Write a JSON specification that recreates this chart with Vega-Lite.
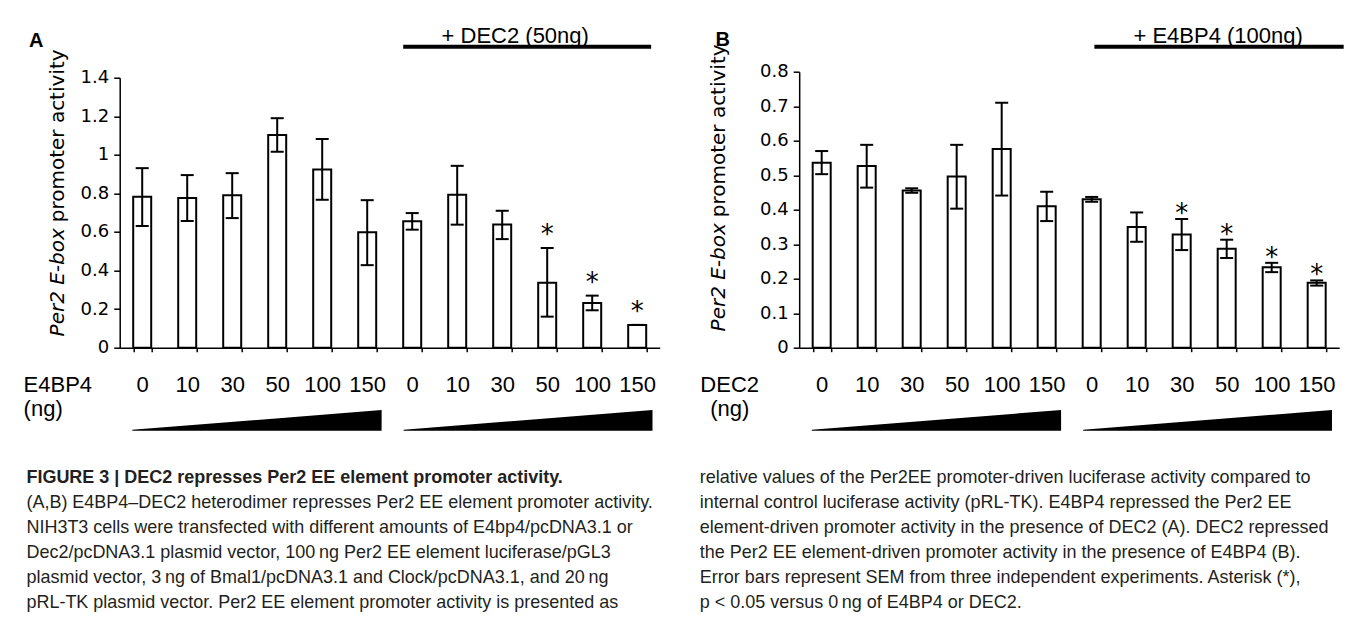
{
  "$schema": "https://vega.github.io/schema/vega-lite/v6.json",
  "background": "white",
  "padding": {"left": 22.7, "top": 24.7, "right": 0, "bottom": 0},
  "config": {
    "view": {"stroke": null},
    "axis": {"grid": false, "labelOverlap": false}
  },
  "datasets": {
    "panelA": [
      {"pos": 1, "mean": 0.783, "lo": 0.631, "hi": 0.931, "sig": false},
      {"pos": 2, "mean": 0.776, "lo": 0.657, "hi": 0.895, "sig": false},
      {"pos": 3, "mean": 0.790, "lo": 0.672, "hi": 0.905, "sig": false},
      {"pos": 4, "mean": 1.103, "lo": 1.016, "hi": 1.190, "sig": false},
      {"pos": 5, "mean": 0.924, "lo": 0.767, "hi": 1.082, "sig": false},
      {"pos": 6, "mean": 0.598, "lo": 0.428, "hi": 0.765, "sig": false},
      {"pos": 7, "mean": 0.655, "lo": 0.612, "hi": 0.698, "sig": false},
      {"pos": 8, "mean": 0.793, "lo": 0.638, "hi": 0.943, "sig": false},
      {"pos": 9, "mean": 0.639, "lo": 0.563, "hi": 0.710, "sig": false},
      {"pos": 10, "mean": 0.337, "lo": 0.161, "hi": 0.517, "sig": true},
      {"pos": 11, "mean": 0.232, "lo": 0.194, "hi": 0.270, "sig": true},
      {"pos": 12, "mean": 0.118, "lo": 0.118, "hi": 0.118, "sig": true}
    ],
    "panelB": [
      {"pos": 1, "mean": 0.536, "lo": 0.503, "hi": 0.570, "sig": false},
      {"pos": 2, "mean": 0.527, "lo": 0.464, "hi": 0.588, "sig": false},
      {"pos": 3, "mean": 0.456, "lo": 0.449, "hi": 0.462, "sig": false},
      {"pos": 4, "mean": 0.496, "lo": 0.403, "hi": 0.588, "sig": false},
      {"pos": 5, "mean": 0.576, "lo": 0.441, "hi": 0.710, "sig": false},
      {"pos": 6, "mean": 0.410, "lo": 0.367, "hi": 0.452, "sig": false},
      {"pos": 7, "mean": 0.430, "lo": 0.423, "hi": 0.437, "sig": false},
      {"pos": 8, "mean": 0.350, "lo": 0.307, "hi": 0.392, "sig": false},
      {"pos": 9, "mean": 0.328, "lo": 0.283, "hi": 0.373, "sig": true},
      {"pos": 10, "mean": 0.287, "lo": 0.260, "hi": 0.313, "sig": true},
      {"pos": 11, "mean": 0.233, "lo": 0.219, "hi": 0.246, "sig": true},
      {"pos": 12, "mean": 0.188, "lo": 0.180, "hi": 0.195, "sig": true}
    ],
    "wedges": [
      {"wedge": 1, "x": 0.28, "amount": 0.04},
      {"wedge": 1, "x": 5.82, "amount": 1},
      {"wedge": 2, "x": 6.31, "amount": 0.04},
      {"wedge": 2, "x": 11.84, "amount": 1}
    ],
    "captionLeft": [
      {"line": 1, "bold": true, "text": "FIGURE 3 | DEC2 represses Per2 EE element promoter activity."},
      {"line": 2, "bold": false, "text": "(A,B) E4BP4–DEC2 heterodimer represses Per2 EE element promoter activity."},
      {"line": 3, "bold": false, "text": "NIH3T3 cells were transfected with different amounts of E4bp4/pcDNA3.1 or"},
      {"line": 4, "bold": false, "text": "Dec2/pcDNA3.1 plasmid vector, 100\u2009ng Per2 EE element luciferase/pGL3"},
      {"line": 5, "bold": false, "text": "plasmid vector, 3\u2009ng of Bmal1/pcDNA3.1 and Clock/pcDNA3.1, and 20\u2009ng"},
      {"line": 6, "bold": false, "text": "pRL-TK plasmid vector. Per2 EE element promoter activity is presented as"}
    ],
    "captionRight": [
      {"line": 1, "text": "relative values of the Per2EE promoter-driven luciferase activity compared to"},
      {"line": 2, "text": "internal control luciferase activity (pRL-TK). E4BP4 repressed the Per2 EE"},
      {"line": 3, "text": "element-driven promoter activity in the presence of DEC2 (A). DEC2 repressed"},
      {"line": 4, "text": "the Per2 EE element-driven promoter activity in the presence of E4BP4 (B)."},
      {"line": 5, "text": "Error bars represent SEM from three independent experiments. Asterisk (*),"},
      {"line": 6, "text": "p < 0.05 versus 0\u2009ng of E4BP4 or DEC2."}
    ]
  },
  "spacing": 39.5,
  "hconcat": [
    {
      "bounds": "flush",
      "spacing": 0,
      "vconcat": [
        {
          "width": 540,
          "height": 30.3,
          "data": {"values": [{"label": "+ DEC2 (50ng)", "start": 6.3, "end": 11.81, "mid": 8.79}]},
          "layer": [
            {
              "mark": {"type": "rule", "color": "black", "strokeWidth": 4},
              "encoding": {
                "x": {"field": "start", "type": "quantitative", "scale": {"domain": [0, 12]}, "axis": null},
                "x2": {"field": "end"},
                "y": {"datum": 1, "type": "quantitative", "scale": {"domain": [0, 1]},
                  "axis": {"title": "A", "orient": "left", "labels": false, "ticks": false, "domain": false, "grid": false,
                    "titleAngle": 0, "titleX": -91.3, "titleY": 0.3, "titleAlign": "left", "titleBaseline": "alphabetic",
                    "titleFont": "Liberation Sans", "titleFontSize": 20, "titleFontWeight": "bold", "titleColor": "black"}}
              }
            },
            {
              "mark": {"type": "text", "font": "Liberation Sans", "fontSize": 22, "color": "black", "baseline": "alphabetic", "dy": -4},
              "encoding": {
                "x": {"field": "mid", "type": "quantitative", "axis": null},
                "y": {"datum": 1, "type": "quantitative"},
                "text": {"field": "label"}
              }
            }
          ]
        },
        {
          "width": 540,
          "height": 270,
          "data": {"name": "panelA"},
          "layer": [
            {
              "layer": [
                {
                  "mark": {"type": "bar", "fill": "white", "stroke": "black", "strokeWidth": 2},
                  "encoding": {
                    "x": {"field": "pos", "type": "ordinal", "scale": {"paddingInner": 0.6, "paddingOuter": 0.3},
                      "axis": {"title": ["E4BP4", "(ng)"], "titleAlign": "left", "titleX": -96.6, "titleY": 44, "titleBaseline": "alphabetic",
                        "titleLineHeight": 24, "titleFont": "Liberation Sans", "titleFontSize": 22, "titleFontWeight": "normal", "titleColor": "black",
                        "labelExpr": "['0','10','30','50','100','150'][(datum.value - 1) % 6]", "labelAngle": 0,
                        "labelFont": "Liberation Sans", "labelFontSize": 22, "labelColor": "black", "labelBaseline": "alphabetic", "labelPadding": 40,
                        "labelOverlap": false, "tickBand": "extent", "tickSize": 4, "tickColor": "black", "tickWidth": 1.5, "domainColor": "black", "domainWidth": 1.5}},
                    "y": {"field": "mean", "type": "quantitative", "scale": {"domain": [0, 1.4]},
                      "axis": {"values": [0, 0.2, 0.4, 0.6, 0.8, 1, 1.2, 1.4], "tickCount": 30, "labelExpr": "format(datum.value, '~g')", "labelOverlap": false, "labelFlush": false,
                        "labelFont": "DejaVu Sans", "labelFontSize": 18, "labelColor": "black", "labelPadding": 5,
                        "tickSize": 6, "tickColor": "black", "tickWidth": 1.5, "domainColor": "black", "domainWidth": 1.5,
                        "title": "promoter activity", "titleAngle": 270, "titleAlign": "left", "titleBaseline": "middle",
                        "titleX": -62, "titleY": 144, "titleFont": "DejaVu Sans", "titleFontSize": 20, "titleFontWeight": "normal", "titleColor": "black"}}
                  }
                },
                {
                  "mark": {"type": "rule", "color": "black", "strokeWidth": 2},
                  "encoding": {
                    "x": {"field": "pos", "type": "ordinal"},
                    "y": {"field": "lo", "type": "quantitative"},
                    "y2": {"field": "hi"}
                  }
                },
                {
                  "mark": {"type": "tick", "color": "black", "opacity": 1, "size": 13, "thickness": 2},
                  "encoding": {
                    "x": {"field": "pos", "type": "ordinal"},
                    "y": {"field": "lo", "type": "quantitative"}
                  }
                },
                {
                  "mark": {"type": "tick", "color": "black", "opacity": 1, "size": 13, "thickness": 2},
                  "encoding": {
                    "x": {"field": "pos", "type": "ordinal"},
                    "y": {"field": "hi", "type": "quantitative"}
                  }
                }
              ]
            },
            {
              "transform": [{"filter": "datum.sig"}],
              "mark": {"type": "text", "text": "*", "font": "DejaVu Sans", "fontSize": 26, "color": "black", "baseline": "alphabetic", "dy": -5},
              "encoding": {
                "x": {"field": "pos", "type": "ordinal"},
                "y": {"field": "hi", "type": "quantitative", "scale": {"domain": [0, 1.4]},
                  "axis": {"orient": "left", "labels": false, "ticks": false, "domain": false, "grid": false,
                    "title": "Per2 E-box", "titleAngle": 270, "titleAlign": "right", "titleBaseline": "middle",
                    "titleX": -62, "titleY": 150, "titleFont": "DejaVu Sans", "titleFontSize": 20, "titleFontStyle": "italic", "titleFontWeight": "normal", "titleColor": "black"}}
              }
            }
          ],
          "resolve": {"scale": {"y": "independent"}, "axis": {"y": "independent"}}
        },
        {
          "width": 540,
          "height": 83,
          "data": {"name": "wedges"},
          "mark": {"type": "area", "color": "black", "interpolate": "linear"},
          "encoding": {
            "x": {"field": "x", "type": "quantitative", "scale": {"domain": [0, 12]}, "axis": null},
            "y": {"field": "amount", "type": "quantitative", "stack": null, "scale": {"domain": [0, 4]}, "axis": null},
            "detail": {"field": "wedge"}
          }
        },
        {
          "width": 540,
          "height": 175,
          "data": {"name": "captionLeft"},
          "encoding": {
            "x": {"datum": 0, "type": "quantitative", "scale": {"domain": [0, 1]}, "axis": null},
            "y": {"field": "line", "type": "quantitative", "scale": {"domain": [-1.1, 5.9], "reverse": true}, "axis": null},
            "text": {"field": "text"}
          },
          "layer": [
            {
              "transform": [{"filter": "datum.bold"}],
              "mark": {"type": "text", "align": "left", "baseline": "alphabetic", "font": "Liberation Sans", "fontSize": 18, "fontWeight": "bold", "color": "#231f20", "dx": -93.3}
            },
            {
              "transform": [{"filter": "!datum.bold"}],
              "mark": {"type": "text", "align": "left", "baseline": "alphabetic", "font": "Liberation Sans", "fontSize": 18, "color": "#231f20", "dx": -93.3}
            }
          ]
        }
      ]
    },
    {
      "bounds": "flush",
      "spacing": 0,
      "vconcat": [
        {
          "width": 540,
          "height": 24.3,
          "data": {"values": [{"label": "+ E4BP4 (100ng)", "start": 6.56, "end": 12.1, "mid": 9.31}]},
          "layer": [
            {
              "mark": {"type": "rule", "color": "black", "strokeWidth": 4},
              "encoding": {
                "x": {"field": "start", "type": "quantitative", "scale": {"domain": [0, 12]}, "axis": null},
                "x2": {"field": "end"},
                "y": {"datum": 1, "type": "quantitative", "scale": {"domain": [0, 1]},
                  "axis": {"title": "B", "orient": "left", "labels": false, "ticks": false, "domain": false, "grid": false,
                    "titleAngle": 0, "titleX": -84.3, "titleY": -1.4, "titleAlign": "left", "titleBaseline": "alphabetic",
                    "titleFont": "Liberation Sans", "titleFontSize": 20, "titleFontWeight": "bold", "titleColor": "black"}}
              }
            },
            {
              "mark": {"type": "text", "font": "Liberation Sans", "fontSize": 22, "color": "black", "baseline": "alphabetic", "dy": -4},
              "encoding": {
                "x": {"field": "mid", "type": "quantitative", "axis": null},
                "y": {"datum": 1, "type": "quantitative"},
                "text": {"field": "label"}
              }
            }
          ]
        },
        {
          "width": 540,
          "height": 276,
          "data": {"name": "panelB"},
          "layer": [
            {
              "layer": [
                {
                  "mark": {"type": "bar", "fill": "white", "stroke": "black", "strokeWidth": 2},
                  "encoding": {
                    "x": {"field": "pos", "type": "ordinal", "scale": {"paddingInner": 0.6, "paddingOuter": 0.3},
                      "axis": {"title": ["DEC2", "(ng)"], "titleAlign": "center", "titleX": -70, "titleY": 44, "titleBaseline": "alphabetic",
                        "titleLineHeight": 24, "titleFont": "Liberation Sans", "titleFontSize": 22, "titleFontWeight": "normal", "titleColor": "black",
                        "labelExpr": "['0','10','30','50','100','150'][(datum.value - 1) % 6]", "labelAngle": 0,
                        "labelFont": "Liberation Sans", "labelFontSize": 22, "labelColor": "black", "labelBaseline": "alphabetic", "labelPadding": 40,
                        "labelOverlap": false, "tickBand": "extent", "tickSize": 4, "tickColor": "black", "tickWidth": 1.5, "domainColor": "black", "domainWidth": 1.5}},
                    "y": {"field": "mean", "type": "quantitative", "scale": {"domain": [0, 0.8]},
                      "axis": {"values": [0, 0.1, 0.2, 0.3, 0.4, 0.5, 0.6, 0.7, 0.8], "tickCount": 30, "labelExpr": "format(datum.value, '~g')", "labelOverlap": false, "labelFlush": false,
                        "labelFont": "DejaVu Sans", "labelFontSize": 18, "labelColor": "black", "labelPadding": 5,
                        "tickSize": 6, "tickColor": "black", "tickWidth": 1.5, "domainColor": "black", "domainWidth": 1.5,
                        "title": "promoter activity", "titleAngle": 270, "titleAlign": "left", "titleBaseline": "middle",
                        "titleX": -81, "titleY": 145, "titleFont": "DejaVu Sans", "titleFontSize": 20, "titleFontWeight": "normal", "titleColor": "black"}}
                  }
                },
                {
                  "mark": {"type": "rule", "color": "black", "strokeWidth": 2},
                  "encoding": {
                    "x": {"field": "pos", "type": "ordinal"},
                    "y": {"field": "lo", "type": "quantitative"},
                    "y2": {"field": "hi"}
                  }
                },
                {
                  "mark": {"type": "tick", "color": "black", "opacity": 1, "size": 13, "thickness": 2},
                  "encoding": {
                    "x": {"field": "pos", "type": "ordinal"},
                    "y": {"field": "lo", "type": "quantitative"}
                  }
                },
                {
                  "mark": {"type": "tick", "color": "black", "opacity": 1, "size": 13, "thickness": 2},
                  "encoding": {
                    "x": {"field": "pos", "type": "ordinal"},
                    "y": {"field": "hi", "type": "quantitative"}
                  }
                }
              ]
            },
            {
              "transform": [{"filter": "datum.sig"}],
              "mark": {"type": "text", "text": "*", "font": "DejaVu Sans", "fontSize": 26, "color": "black", "baseline": "alphabetic", "dy": 3},
              "encoding": {
                "x": {"field": "pos", "type": "ordinal"},
                "y": {"field": "hi", "type": "quantitative", "scale": {"domain": [0, 0.8]},
                  "axis": {"orient": "left", "labels": false, "ticks": false, "domain": false, "grid": false,
                    "title": "Per2 E-box", "titleAngle": 270, "titleAlign": "right", "titleBaseline": "middle",
                    "titleX": -81, "titleY": 151, "titleFont": "DejaVu Sans", "titleFontSize": 20, "titleFontStyle": "italic", "titleFontWeight": "normal", "titleColor": "black"}}
              }
            }
          ],
          "resolve": {"scale": {"y": "independent"}, "axis": {"y": "independent"}}
        },
        {
          "width": 540,
          "height": 83,
          "data": {"name": "wedges"},
          "mark": {"type": "area", "color": "black", "interpolate": "linear"},
          "encoding": {
            "x": {"field": "x", "type": "quantitative", "scale": {"domain": [0, 12]}, "axis": null},
            "y": {"field": "amount", "type": "quantitative", "stack": null, "scale": {"domain": [0, 4]}, "axis": null},
            "detail": {"field": "wedge"}
          }
        },
        {
          "width": 540,
          "height": 175,
          "data": {"name": "captionRight"},
          "mark": {"type": "text", "align": "left", "baseline": "alphabetic", "font": "Liberation Sans", "fontSize": 18, "color": "#231f20", "dx": -99.5},
          "encoding": {
            "x": {"datum": 0, "type": "quantitative", "scale": {"domain": [0, 1]}, "axis": null},
            "y": {"field": "line", "type": "quantitative", "scale": {"domain": [-1.1, 5.9], "reverse": true}, "axis": null},
            "text": {"field": "text"}
          }
        }
      ]
    }
  ]
}
